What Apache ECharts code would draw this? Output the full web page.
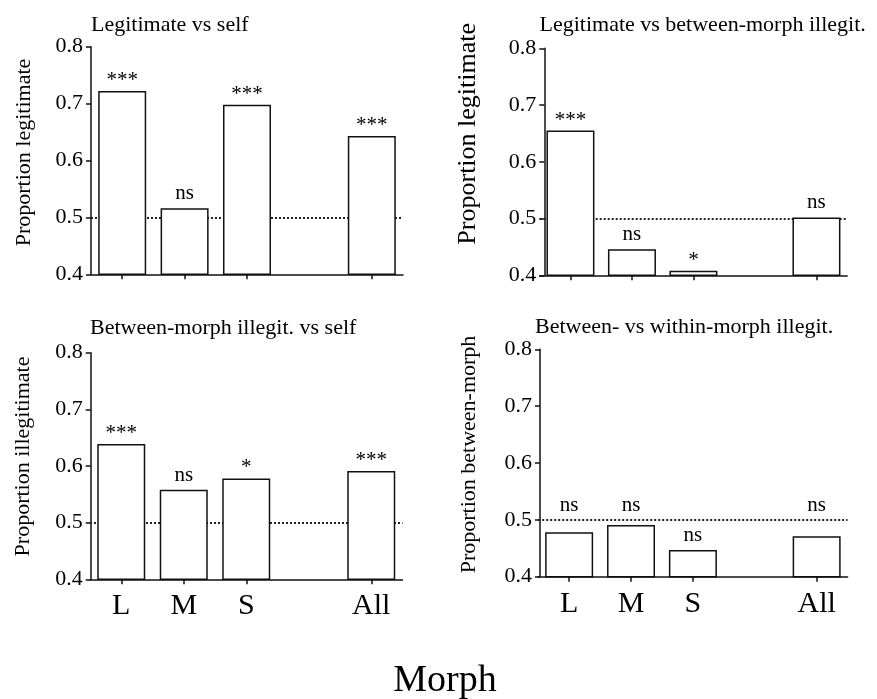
<!DOCTYPE html>
<html>
<head>
<meta charset="utf-8">
<script src="https://cdn.jsdelivr.net/npm/echarts@6/dist/echarts.min.js"></script>
<style>
html,body{margin:0;padding:0;background:#fff;}
#chart{width:877px;height:699px;}
</style>
</head>
<body>
<div id="chart"></div>
<script>
// ---- data ----
const categories = ['L', 'M', 'S', '', 'All'];
const yTicks = [0.4, 0.5, 0.6, 0.7, 0.8];
const refLevel = 0.5;

const titles = [
  'Legitimate vs self',
  'Legitimate vs between-morph illegit.',
  'Between-morph illegit. vs self',
  'Between- vs within-morph illegit.'
];
const yNames = [
  'Proportion legitimate',
  'Proportion legitimate',
  'Proportion illegitimate',
  'Proportion between-morph'
];
const legitVsSelf = [0.722, 0.516, 0.698, null, 0.643];
const legitVsBetween = [0.655, 0.446, 0.408, null, 0.502];
const betweenVsSelf = [0.639, 0.558, 0.578, null, 0.591];
const betweenVsWithin = [0.478, 0.491, 0.447, null, 0.471];

const sigLegitVsSelf = ['***', 'ns', '***', '', '***'];
const sigLegitVsBetween = ['***', 'ns', '*', '', 'ns'];
const sigBetweenVsSelf = ['***', 'ns', '*', '', '***'];
const sigBetweenVsWithin = ['ns', 'ns', 'ns', '', 'ns'];

const xTitle = 'Morph';

// ---- layout (not data) ----
const panels = [
  {values: legitVsSelf, sig: sigLegitVsSelf, grid: {left: 91, top: 46.7, width: 312, height: 227.6}, yOff: 0, titlePos: {left: 91, top: 14}, nameSize: 22, nameGap: 56, shift: 16, showLabels: false},
  {values: legitVsBetween, sig: sigLegitVsBetween, grid: {left: 539.7, top: 48.3, width: 307.5, height: 227}, yOff: -4.6, titlePos: {left: 539.5, top: 14}, nameSize: 26, nameGap: 63, shift: 56, showLabels: false},
  {values: betweenVsSelf, sig: sigBetweenVsSelf, grid: {left: 90, top: 352.7, width: 312.5, height: 226.6}, yOff: -0.7, titlePos: {left: 90, top: 317.5}, nameSize: 22, nameGap: 56, shift: 19, showLabels: true},
  {values: betweenVsWithin, sig: sigBetweenVsWithin, grid: {left: 538.2, top: 349.3, width: 309.4, height: 227.4}, yOff: -1.8, titlePos: {left: 535, top: 316}, nameSize: 22, nameGap: 60, shift: 17, showLabels: true}
];

const FONT = '"Liberation Serif", "Times New Roman", serif';
const INK = '#111';

const option = {
  animation: false,
  backgroundColor: '#fff',
  title: panels.map((p, i) => ({
    text: titles[i],
    left: p.titlePos.left,
    top: p.titlePos.top,
    padding: 0,
    textStyle: {fontFamily: FONT, fontSize: 22, fontWeight: 'normal', color: '#000'}
  })),
  grid: panels.map(p => Object.assign({containLabel: false}, p.grid)),
  xAxis: panels.map((p, i) => ({
    type: 'category',
    gridIndex: i,
    data: categories,
    boundaryGap: true,
    axisLine: {show: true, lineStyle: {color: INK, width: 1.5}},
    axisTick: {
      show: true, alignWithLabel: true, length: 5, inside: false,
      interval: (idx, val) => val !== '',
      lineStyle: {color: INK, width: 1.5}
    },
    axisLabel: {
      show: p.showLabels, interval: 0, margin: 12,
      fontFamily: FONT, fontSize: 30, color: '#000'
    },
    splitLine: {show: false}
  })),
  yAxis: panels.map((p, i) => ({
    type: 'value',
    gridIndex: i,
    min: yTicks[0],
    max: yTicks[yTicks.length - 1],
    interval: 0.1,
    offset: p.yOff,
    name: yNames[i],
    nameLocation: 'middle',
    nameGap: p.nameGap,
    nameTextStyle: {fontFamily: FONT, fontSize: p.nameSize, color: '#000', padding: [0, 0, 0, p.shift]},
    axisLine: {show: true, lineStyle: {color: INK, width: 1.5}},
    axisTick: {show: true, length: 5, inside: false, lineStyle: {color: INK, width: 1.5}},
    axisLabel: {
      margin: 8, fontFamily: FONT, fontSize: 22, color: '#000',
      formatter: v => v.toFixed(1)
    },
    splitLine: {show: false}
  })),
  series: []
};

panels.forEach((p, i) => {
  option.series.push({
    type: 'bar',
    xAxisIndex: i,
    yAxisIndex: i,
    data: p.values.map(v => v == null ? '-' : v),
    barWidth: 48,
    z: 3,
    itemStyle: {color: '#fff', borderColor: INK, borderWidth: 1.5},
    markLine: {
      silent: true,
      z: 1,
      symbol: ['none', 'none'],
      label: {show: false},
      lineStyle: {type: 'dotted', color: '#222', width: 2},
      data: [{yAxis: refLevel}]
    }
  });
  // significance labels: above the bar, or above the reference line when the bar sits just under it
  option.series.push({
    type: 'scatter',
    xAxisIndex: i,
    yAxisIndex: i,
    symbolSize: 0,
    silent: true,
    z: 4,
    itemStyle: {opacity: 1},
    data: p.values.map((v, k) => {
      if (v == null) return '-';
      const anchor = (v < refLevel && v > refLevel - 0.04) ? refLevel : v;
      const isStar = p.sig[k].indexOf('*') >= 0;
      return {value: anchor, label: {formatter: p.sig[k], distance: isStar ? 0 : 4}};
    }),
    label: {
      show: true, position: 'top', distance: 4,
      fontFamily: FONT, fontSize: 21, color: '#000'
    }
  });
});

option.graphic = [{
  type: 'text',
  x: 445,
  y: 681,
  style: {
    text: xTitle,
    font: '38px ' + FONT,
    fill: '#000',
    textAlign: 'center',
    textVerticalAlign: 'middle'
  }
}];

const chart = echarts.init(document.getElementById('chart'), null, {renderer: 'canvas'});
chart.setOption(option);
</script>
</body>
</html>
